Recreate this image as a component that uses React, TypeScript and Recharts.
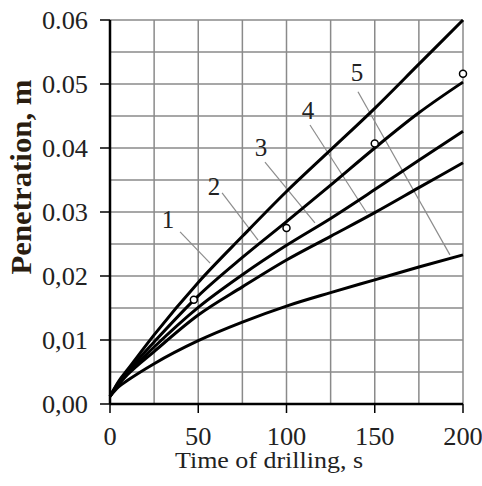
import { CartesianGrid, ComposedChart, Label, Line, ReferenceDot, ReferenceLine, Scatter, XAxis, YAxis } from "recharts";

// drilling time, s
const times = [0, 5, 10, 25, 50, 75, 100, 125, 150, 175, 200];

// penetration, m (curves 1..5)
const curve1 = [0.0012, 0.0036, 0.0054, 0.0108, 0.019, 0.0262, 0.0332, 0.0397, 0.0462, 0.0531, 0.06];
const curve2 = [0.0012, 0.0034, 0.0051, 0.0097, 0.0169, 0.0229, 0.0285, 0.0342, 0.04, 0.0455, 0.0503];
const curve3 = [0.0012, 0.0032, 0.0048, 0.0089, 0.0151, 0.0202, 0.0248, 0.029, 0.0335, 0.0381, 0.0426];
const curve4 = [0.0012, 0.0031, 0.0046, 0.0082, 0.0139, 0.0183, 0.0225, 0.0262, 0.0299, 0.0338, 0.0377];
const curve5 = [0.0012, 0.0027, 0.0037, 0.0063, 0.0099, 0.0128, 0.0153, 0.0174, 0.0194, 0.0214, 0.0233];

// measured points
const expTimes = [47.5, 100, 150, 200];
const expValues = [0.0163, 0.0275, 0.0407, 0.0516];

const xTicks = [0, 50, 100, 150, 200];
const yTicks = [0, 0.01, 0.02, 0.03, 0.04, 0.05, 0.06];
const yTickLabels = ["0,00", "0,01", "0,02", "0.03", "0.04", "0.05", "0.06"];
const gridX = [0, 25, 50, 75, 100, 125, 150, 175, 200];
const gridY = [0, 0.005, 0.01, 0.015, 0.02, 0.025, 0.03, 0.035, 0.04, 0.045, 0.05, 0.055, 0.06];

// curve number labels and their leader lines (data units)
const curveNames = ["1", "2", "3", "4", "5"];
const nameAt = [
    { x: 32.9, y: 0.0289 },
    { x: 58.9, y: 0.034 },
    { x: 85.6, y: 0.0401 },
    { x: 112.2, y: 0.0459 },
    { x: 140, y: 0.0518 },
];
const leaders = [
    [{ x: 39.7, y: 0.0269 }, { x: 56.7, y: 0.022 }],
    [{ x: 63.5, y: 0.033 }, { x: 83.9, y: 0.0256 }],
    [{ x: 87.8, y: 0.0378 }, { x: 116.1, y: 0.0283 }],
    [{ x: 113.3, y: 0.0436 }, { x: 145.6, y: 0.0298 }],
    [{ x: 140.5, y: 0.0488 }, { x: 192.6, y: 0.0233 }],
];

const serif = "'Liberation Serif', 'Times New Roman', serif";

const rows = times.map((t, i) => ({
    t,
    c1: curve1[i],
    c2: curve2[i],
    c3: curve3[i],
    c4: curve4[i],
    c5: curve5[i],
}));
const expRows = expTimes.map((t, i) => ({ t, p: expValues[i] }));

// the scanned labels are a bit wider than plain Times, stretch them a little
const stretchedWidth = (s: string) =>
    s.split("").reduce((w, ch) => w + (ch === "." || ch === "," ? 6.5 : 13.2), 0);

const XTick = ({ x, y, payload }: any) => {
    const s = String(payload.value);
    return (
        <text
            x={x}
            y={y}
            textAnchor="middle"
            dominantBaseline="central"
            style={{ fontFamily: serif, fontSize: 25 }}
            fill="#222"
            textLength={stretchedWidth(s)}
            lengthAdjust="spacingAndGlyphs"
        >
            {s}
        </text>
    );
};

const YTick = ({ x, y, payload }: any) => {
    const idx = yTicks.findIndex(v => Math.abs(v - payload.value) < 1e-9);
    const s = idx >= 0 ? yTickLabels[idx] : String(payload.value);
    return (
        <text
            x={x}
            y={y}
            textAnchor="end"
            dominantBaseline="central"
            style={{ fontFamily: serif, fontSize: 25 }}
            fill="#222"
            textLength={stretchedWidth(s)}
            lengthAdjust="spacingAndGlyphs"
        >
            {s}
        </text>
    );
};

const YTitle = () => (
    <text
        x={21}
        y={177}
        transform="rotate(-90 21 177)"
        textAnchor="middle"
        dominantBaseline="central"
        style={{ fontFamily: serif, fontSize: 29, fontWeight: "bold" }}
        fill="#2a1d10"
        textLength={195}
        lengthAdjust="spacingAndGlyphs"
    >
        Penetration, m
    </text>
);

const XTitle = () => (
    <text
        x={269}
        y={468}
        textAnchor="middle"
        style={{ fontFamily: serif, fontSize: 24 }}
        fill="#222"
        textLength={188}
        lengthAdjust="spacingAndGlyphs"
    >
        Time of drilling, s
    </text>
);

const OpenDot = ({ cx, cy }: any) => (
    <circle cx={cx} cy={cy} r={3.5} fill="#fff" stroke="#000" strokeWidth={1.5} />
);

export default function App() {
    return (
        <div style={{ position: "absolute", left: 0, top: 0, width: 482, height: 486, background: "#fff" }}>
            <ComposedChart width={482} height={486} data={rows} margin={{ top: 20, right: 19, bottom: 0, left: 0 }}>
                <CartesianGrid
                    stroke="#8a8a8a"
                    strokeWidth={1.5}
                    horizontalValues={gridY}
                    verticalValues={gridX}
                />
                <XAxis
                    dataKey="t"
                    type="number"
                    domain={[0, 200]}
                    ticks={xTicks}
                    height={82}
                    tickSize={9}
                    tickMargin={23}
                    tick={<XTick />}
                    axisLine={{ stroke: "#000", strokeWidth: 2.5 }}
                    tickLine={{ stroke: "#000", strokeWidth: 1.5 }}
                >
                    <Label content={<XTitle />} />
                </XAxis>
                <YAxis
                    type="number"
                    domain={[0, 0.06]}
                    ticks={yTicks}
                    width={110}
                    tickSize={10}
                    tickMargin={12}
                    tick={<YTick />}
                    axisLine={{ stroke: "#000", strokeWidth: 2.5 }}
                    tickLine={{ stroke: "#000", strokeWidth: 1.5 }}
                >
                    <Label content={<YTitle />} />
                </YAxis>
                {leaders.map((seg, i) => (
                    <ReferenceLine key={"l" + i} segment={seg} stroke="#8c8c8c" strokeWidth={1.2} ifOverflow="visible" />
                ))}
                {["c1", "c2", "c3", "c4", "c5"].map(k => (
                    <Line
                        key={k}
                        dataKey={k}
                        type="monotone"
                        stroke="#000"
                        strokeWidth={3}
                        dot={false}
                        activeDot={false}
                        isAnimationActive={false}
                    />
                ))}
                <Scatter data={expRows} dataKey="p" shape={<OpenDot />} isAnimationActive={false} />
                {curveNames.map((name, i) => (
                    <ReferenceDot
                        key={"n" + i}
                        x={nameAt[i].x}
                        y={nameAt[i].y}
                        r={0}
                        fill="none"
                        stroke="none"
                        ifOverflow="visible"
                        label={{ value: name, position: "center", fontSize: 25, fill: "#222", fontFamily: serif }}
                    />
                ))}
            </ComposedChart>
        </div>
    );
}
